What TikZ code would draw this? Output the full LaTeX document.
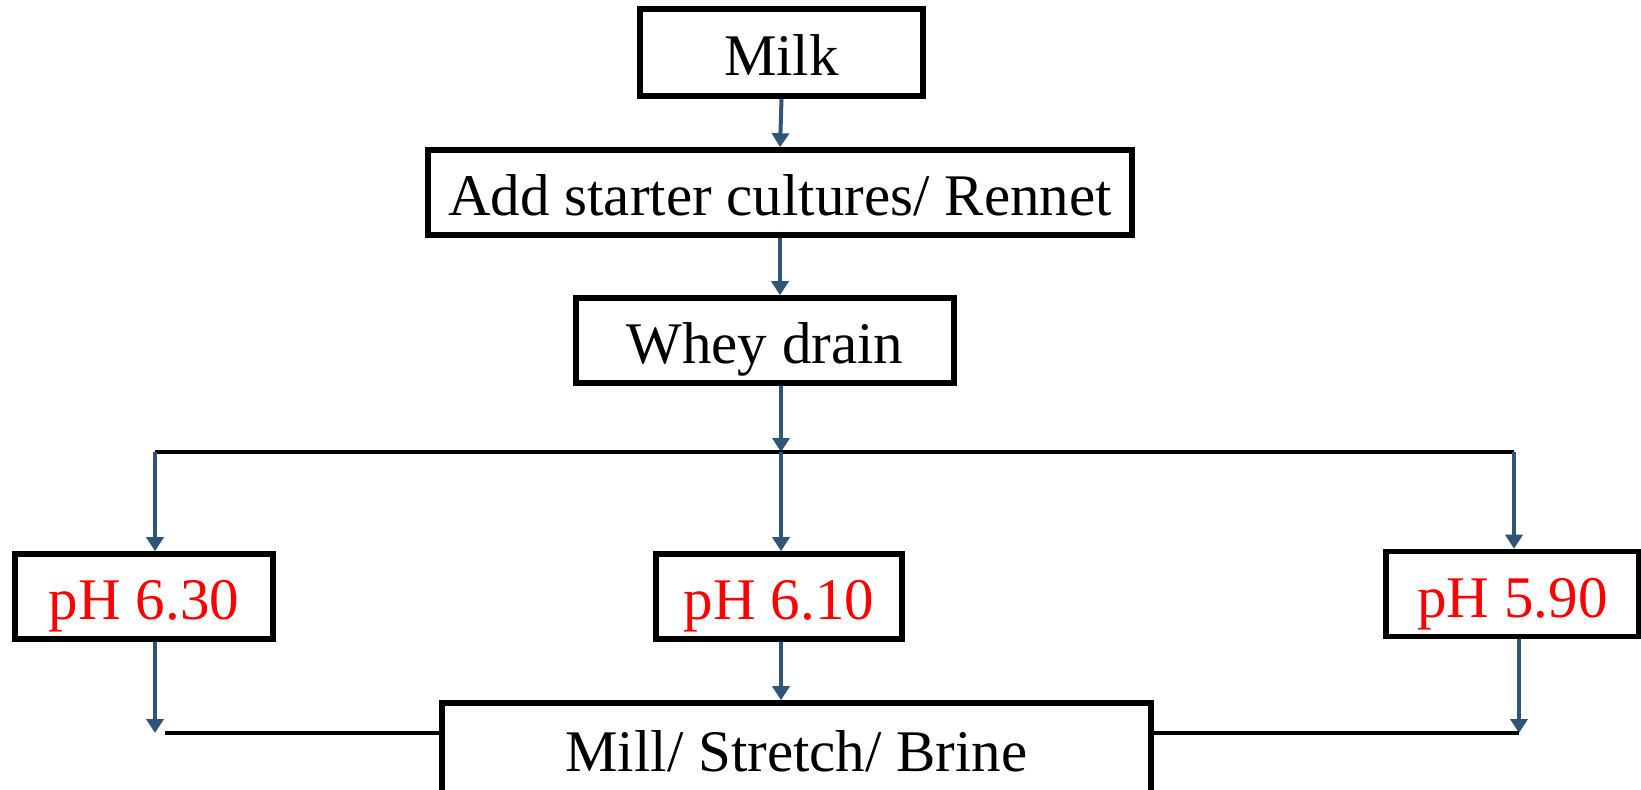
\documentclass[tikz,border=0pt]{standalone}
\usepackage{fontspec}
\setmainfont{Liberation Serif}
\usetikzlibrary{arrows.meta}
\definecolor{arrowblue}{RGB}{47,85,120}
\definecolor{phred}{RGB}{255,0,0}
\tikzset{
  box/.style={draw=black, line width=2.8pt, rectangle, inner sep=0pt,
    font=\fontsize{29.5pt}{32pt}\selectfont, text height=27.5pt, text depth=4.5pt},
  phbox/.style={box, text=phred},
  arr/.style={draw=arrowblue, line width=2pt, -{Triangle[width=8.5pt,length=7pt]}},
  conn/.style={draw=black, line width=2.3pt}
}
\begin{document}
\begin{tikzpicture}[x=0.5pt,y=-0.5pt]
\clip (0,0) rectangle (1641,789);
\fill[white] (0,0) rectangle (1641,789);

\node[box, minimum width=141.5pt, minimum height=43.5pt] (milk) at (781.5,52.5) {Milk};
\node[box, minimum width=352pt, minimum height=42.5pt] (add) at (780,192.5) {Add starter cultures/ Rennet};
\node[box, minimum width=189pt, minimum height=42.5pt] (whey) at (765,340.5) {Whey drain};
\node[phbox, minimum width=129pt, minimum height=42.5pt] (ph630) at (144,596.5) {pH 6.30};
\node[phbox, minimum width=123pt, minimum height=42.5pt] (ph610) at (779,596.5) {pH 6.10};
\node[phbox, minimum width=126.5pt, minimum height=42.5pt] (ph590) at (1512.5,594) {pH 5.90};
\node[box, minimum width=354.5pt, minimum height=45pt] (mill) at (796.5,748) {Mill/ Stretch/ Brine};

\coordinate (jl) at (155,452);
\coordinate (jc) at (781,452);
\coordinate (jr) at (1514,452);
\coordinate (bl) at (155,733);
\coordinate (br) at (1519,733);

% top chain
\draw[arr] (milk.south) -- (add.north);
\draw[arr] (add.south) -- (add.south |- whey.north);
\draw[arr] (whey.south -| jc) -- (jc);

% splitter
\draw[conn] (jl) -- (jr);
\draw[arr] (jl) -- (jl |- ph630.north);
\draw[arr] (jc) -- (jc |- ph610.north);
\draw[arr] (jr) -- (jr |- ph590.north);

% merge
\draw[arr] (ph630.south -| bl) -- (bl);
\draw[arr] (ph590.south -| br) -- (br);
\draw[arr] (ph610.south -| jc) -- (jc |- mill.north);
\draw[conn] ([xshift=5]bl) -- (bl -| mill.west);
\draw[conn] (br) -- (br -| mill.east);
\end{tikzpicture}
\end{document}
